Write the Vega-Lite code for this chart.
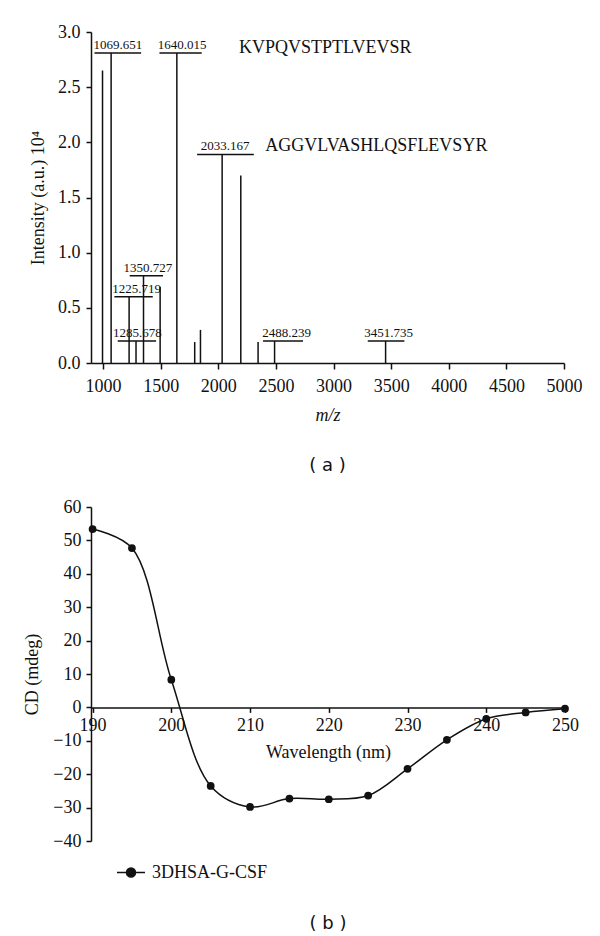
{
  "$schema": "https://vega.github.io/schema/vega-lite/v6.json",
  "padding": {"left": 23, "top": 23, "right": 5, "bottom": 0},
  "background": "white",
  "config": {
    "view": {"stroke": null},
    "font": "Liberation Serif",
    "axis": {"grid": false, "domainColor": "#111", "domainWidth": 1.5, "tickColor": "#111", "tickWidth": 1.5,
      "labelFont": "Liberation Serif", "labelFontSize": 18, "labelColor": "#111", "labelOverlap": false,
      "titleFont": "Liberation Serif", "titleFontSize": 18, "titleFontWeight": "normal", "titleColor": "#111"},
    "title": {"font": "DejaVu Sans", "fontSize": 18, "fontWeight": "normal", "color": "#111", "orient": "bottom", "anchor": "middle", "frame": "group"},
    "concat": {"spacing": 23}
  },
  "datasets": {
    "peaks": [
      {"mz": 995, "intensity": 2.65},
      {"mz": 1069.651, "intensity": 2.81},
      {"mz": 1225.719, "intensity": 0.6},
      {"mz": 1285.678, "intensity": 0.2},
      {"mz": 1350.727, "intensity": 0.79},
      {"mz": 1495, "intensity": 0.69},
      {"mz": 1640.015, "intensity": 2.81},
      {"mz": 1795, "intensity": 0.19},
      {"mz": 1845, "intensity": 0.3},
      {"mz": 2033.167, "intensity": 1.89},
      {"mz": 2195, "intensity": 1.7},
      {"mz": 2345, "intensity": 0.19},
      {"mz": 2488.239, "intensity": 0.2},
      {"mz": 3451.735, "intensity": 0.2}
    ],
    "bars": [
      {"label": "1069.651", "x1": 925, "x2": 1330, "y": 2.81, "labelmz": 1128},
      {"label": "1640.015", "x1": 1489, "x2": 1856, "y": 2.81, "labelmz": 1685},
      {"label": "2033.167", "x1": 1816, "x2": 2308, "y": 1.89, "labelmz": 2060},
      {"label": "1350.727", "x1": 1231, "x2": 1520, "y": 0.79, "labelmz": 1389},
      {"label": "1225.719", "x1": 1098, "x2": 1431, "y": 0.6, "labelmz": 1291},
      {"label": "1285.678", "x1": 1127, "x2": 1460, "y": 0.2, "labelmz": 1298},
      {"label": "2488.239", "x1": 2388, "x2": 2735, "y": 0.2, "labelmz": 2592},
      {"label": "3451.735", "x1": 3297, "x2": 3615, "y": 0.2, "labelmz": 3479}
    ],
    "peptides": [
      {"text": "KVPQVSTPTLVEVSR", "mz": 2180, "y": 2.814},
      {"text": "AGGVLVASHLQSFLEVSYR", "mz": 2408, "y": 1.924}
    ],
    "cd": [
      {"wavelength": 190, "cd": 53.4, "series": "3DHSA-G-CSF"},
      {"wavelength": 195, "cd": 47.7, "series": "3DHSA-G-CSF"},
      {"wavelength": 200, "cd": 8.3, "series": "3DHSA-G-CSF"},
      {"wavelength": 205, "cd": -23.5, "series": "3DHSA-G-CSF"},
      {"wavelength": 210, "cd": -29.8, "series": "3DHSA-G-CSF"},
      {"wavelength": 215, "cd": -27.3, "series": "3DHSA-G-CSF"},
      {"wavelength": 220, "cd": -27.5, "series": "3DHSA-G-CSF"},
      {"wavelength": 225, "cd": -26.4, "series": "3DHSA-G-CSF"},
      {"wavelength": 230, "cd": -18.4, "series": "3DHSA-G-CSF"},
      {"wavelength": 235, "cd": -9.7, "series": "3DHSA-G-CSF"},
      {"wavelength": 240, "cd": -3.4, "series": "3DHSA-G-CSF"},
      {"wavelength": 245, "cd": -1.5, "series": "3DHSA-G-CSF"},
      {"wavelength": 250, "cd": -0.4, "series": "3DHSA-G-CSF"}
    ]
  },
  "vconcat": [
    {
      "width": 473,
      "height": 331,
      "title": {"text": "( a )", "offset": 33},
      "layer": [
        {
          "data": {"name": "peaks"},
          "mark": {"type": "rule", "color": "#111", "strokeWidth": 1.5},
          "encoding": {
            "x": {"field": "mz", "type": "quantitative", "title": "m/z",
              "scale": {"domain": [895, 5000], "nice": false, "zero": false},
              "axis": {"values": [1000, 1500, 2000, 2500, 3000, 3500, 4000, 4500, 5000], "format": "d",
                "titleFontStyle": "italic", "tickSize": 6, "labelPadding": 8, "titlePadding": 11, "labelFlush": false}},
            "y": {"field": "intensity", "type": "quantitative", "title": "Intensity (a.u.) 10⁴",
              "scale": {"domain": [0, 3], "nice": false},
              "axis": {"values": [0, 0.5, 1, 1.5, 2, 2.5, 3], "format": ".1f", "tickSize": 5, "labelPadding": 6, "titlePadding": 10}},
            "y2": {"datum": 0}
          }
        },
        {
          "data": {"name": "bars"},
          "mark": {"type": "rule", "color": "#111", "strokeWidth": 1.5},
          "encoding": {
            "x": {"field": "x1", "type": "quantitative", "title": "m/z"},
            "x2": {"field": "x2"},
            "y": {"field": "y", "type": "quantitative", "title": "Intensity (a.u.) 10⁴"}
          }
        },
        {
          "data": {"name": "bars"},
          "mark": {"type": "text", "font": "Liberation Serif", "fontSize": 13, "align": "center", "baseline": "alphabetic", "dy": -4, "color": "#111"},
          "encoding": {
            "x": {"field": "labelmz", "type": "quantitative", "title": "m/z"},
            "y": {"field": "y", "type": "quantitative", "title": "Intensity (a.u.) 10⁴"},
            "text": {"field": "label", "type": "nominal"}
          }
        },
        {
          "data": {"name": "peptides"},
          "mark": {"type": "text", "font": "Liberation Serif", "fontSize": 18, "align": "left", "baseline": "alphabetic", "color": "#111"},
          "encoding": {
            "x": {"field": "mz", "type": "quantitative", "title": "m/z"},
            "y": {"field": "y", "type": "quantitative", "title": "Intensity (a.u.) 10⁴"},
            "text": {"field": "text", "type": "nominal"}
          }
        }
      ]
    },
    {
      "width": 474,
      "height": 334,
      "title": {"text": "( b )", "offset": 65},
      "data": {"name": "cd"},
      "encoding": {
        "x": {"field": "wavelength", "type": "quantitative", "title": "Wavelength (nm)",
          "scale": {"domain": [189.8, 250], "nice": false, "zero": false},
          "axis": {"values": [190, 200, 210, 220, 230, 240, 250], "offset": -133.6, "tickSize": 5, "labelPadding": 4, "titlePadding": 9, "labelFlush": false}},
        "y": {"field": "cd", "type": "quantitative", "title": "CD (mdeg)",
          "scale": {"domain": [-40, 60], "nice": false},
          "axis": {"values": [-40, -30, -20, -10, 0, 10, 20, 30, 40, 50, 60], "tickSize": 5, "labelPadding": 5, "titlePadding": 11, "labelOverlap": false}}
      },
      "layer": [
        {
          "mark": {"type": "line", "interpolate": "catmull-rom", "strokeWidth": 1.5},
          "encoding": {
            "color": {"field": "series", "type": "nominal", "scale": {"range": ["#111"]},
              "legend": {"orient": "none", "legendX": 31, "legendY": 831.5, "title": null,
                "symbolType": "M-2.8,0H2.8M-0.9,0A0.9,0.9,0,1,1,0.9,0A0.9,0.9,0,1,1,-0.9,0Z",
                "symbolSize": 100, "symbolStrokeWidth": 1.5, "symbolFillColor": "#111", "symbolStrokeColor": "#111",
                "labelFont": "Liberation Serif", "labelFontSize": 18, "labelColor": "#111", "labelOffset": 12,
                "labelLimit": 300,
                "encode": {"symbols": {"update": {"fill": {"value": "#111"}, "stroke": {"value": "#111"}, "strokeWidth": {"value": 1.5}, "opacity": {"value": 1}}}}}}
          }
        },
        {
          "mark": {"type": "point", "filled": true, "size": 60, "color": "#111", "opacity": 1}
        }
      ]
    }
  ]
}
